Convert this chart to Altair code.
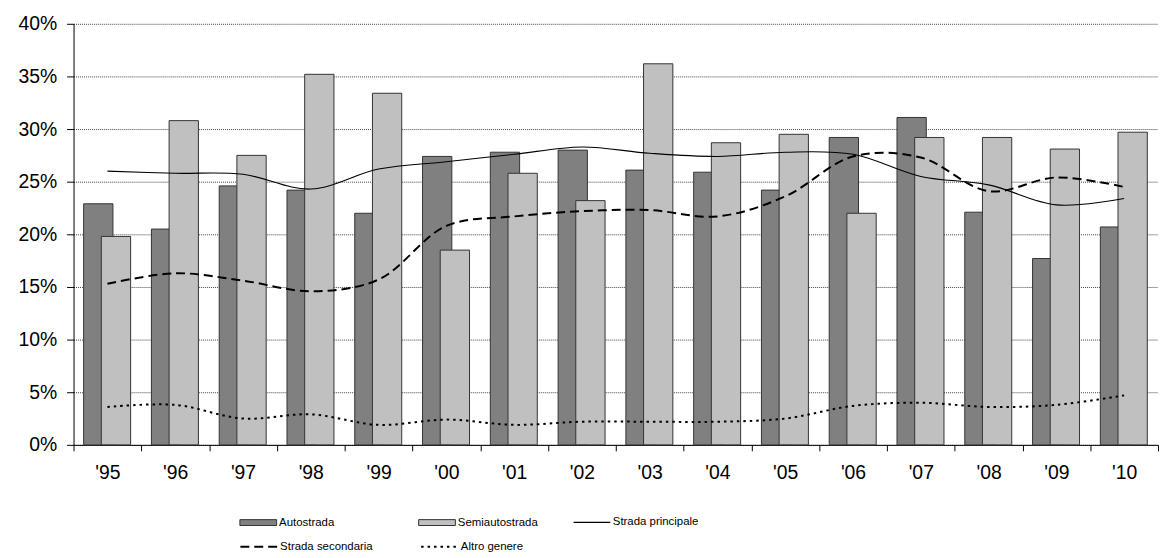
import altair as alt
import pandas as pd

years = ["'95", "'96", "'97", "'98", "'99", "'00", "'01", "'02",
         "'03", "'04", "'05", "'06", "'07", "'08", "'09", "'10"]
bar_series = ["Autostrada", "Semiautostrada"]
solid_series = ["Strada principale"]
dash_series = ["Strada secondaria", "Altro genere"]
autostrada = [22.9, 20.5, 24.6, 24.2, 22.0, 27.4, 27.8, 28.0,
              26.1, 25.9, 24.2, 29.2, 31.1, 22.1, 17.7, 20.7]
semiautostrada = [19.8, 30.8, 27.5, 35.2, 33.4, 18.5, 25.8, 23.2,
                  36.2, 28.7, 29.5, 22.0, 29.2, 29.2, 28.1, 29.7]
principale = [26.0, 25.8, 25.7, 24.3, 26.2, 26.9, 27.6, 28.3,
              27.7, 27.4, 27.8, 27.6, 25.5, 24.7, 22.8, 23.4]
secondaria = [15.3, 16.3, 15.6, 14.6, 15.7, 20.8, 21.7, 22.2,
              22.3, 21.7, 23.6, 27.4, 27.3, 24.1, 25.4, 24.5]
altro = [3.6, 3.8, 2.5, 2.9, 1.9, 2.4, 1.9, 2.2,
         2.2, 2.2, 2.5, 3.7, 4.0, 3.6, 3.8, 4.7]
y_ticks = [0, 5, 10, 15, 20, 25, 30, 35, 40]

series = bar_series + solid_series + dash_series
values = [autostrada, semiautostrada, principale, secondaria, altro]
rows = []
for name, vals in zip(series, values):
    for yr, v in zip(years, vals):
        rows.append({"anno": yr, "serie": name, "valore": v})
df = pd.DataFrame(rows)

FONT = "Liberation Sans"
LEG = dict(title=None, orient="none", direction="horizontal",
           gridAlign="all", symbolSize=342, labelFont=FONT,
           labelFontSize=11.5, labelColor="black", labelOffset=11,
           padding=0, symbolOpacity=1)

x = alt.X("anno:N", sort=years,
          scale=alt.Scale(paddingInner=0, paddingOuter=0),
          axis=alt.Axis(title=None, labelAngle=0, tickBand="extent",
                        domainColor="black", tickColor="black", tickSize=6,
                        labelPadding=13, labelFont=FONT, labelFontSize=19.5,
                        labelColor="black", grid=False))
y = alt.Y("valore:Q",
          scale=alt.Scale(domain=[0, 40], nice=False),
          axis=alt.Axis(title=None, values=y_ticks,
                        labelExpr="datum.value + '%'",
                        domainColor="black", tickColor="black", tickSize=7,
                        labelPadding=10, labelFont=FONT, labelFontSize=19.5,
                        labelColor="black", grid=True, gridColor="#444444",
                        gridDash=[1, 1], gridWidth=1))

fill = alt.Fill("serie:N",
                scale=alt.Scale(domain=bar_series, range=["#808080", "#c0c0c0"]),
                legend=alt.Legend(legendX=176, legendY=492, columns=2,
                                  columnPadding=57,
                                  symbolType="M-2,-0.32H2V0.32H-2Z",
                                  symbolStrokeColor="#333333",
                                  symbolStrokeWidth=1, **LEG))
stroke = alt.Stroke("serie:N",
                    scale=alt.Scale(domain=solid_series, range=["#000000"]),
                    legend=alt.Legend(legendX=512, legendY=492, columns=1,
                                      symbolType="M-2,0H2",
                                      symbolStrokeWidth=1.2, **LEG))
dash = alt.StrokeDash("serie:N",
                      scale=alt.Scale(domain=dash_series, range=[[9, 5], [2.5, 4]]),
                      legend=alt.Legend(legendX=176, legendY=516, columns=2,
                                        columnPadding=44,
                                        symbolType="M-2,0H2",
                                        symbolStrokeColor="#000000",
                                        symbolStrokeWidth=2, **LEG))

base = alt.Chart(df)

bar_a = base.transform_filter(alt.datum.serie == "Autostrada").mark_bar(
    width=29.5, xOffset=-9.2, stroke="#333333", strokeWidth=1
).encode(x=x, y=y, fill=fill)
bar_s = base.transform_filter(alt.datum.serie == "Semiautostrada").mark_bar(
    width=29.5, xOffset=8.6, stroke="#333333", strokeWidth=1
).encode(x=x, y=y, fill=fill)

line_p = base.transform_filter(alt.datum.serie == "Strada principale").mark_line(
    interpolate="catmull-rom", strokeWidth=1.1
).encode(x=x, y=y, stroke=stroke)
line_d = base.transform_filter(
    alt.FieldOneOfPredicate(field="serie", oneOf=dash_series)
).mark_line(
    interpolate="catmull-rom", strokeWidth=2, color="#000000"
).encode(x=x, y=y, strokeDash=dash)

chart = alt.layer(bar_a, bar_s, line_p, line_d).properties(
    width=1092, height=424,
    padding={"left": 9, "top": 4, "right": 0, "bottom": 0},
    background="white",
).configure_view(stroke=None)

chart.save("out.html", embed_options={"renderer": "svg", "actions": False})
